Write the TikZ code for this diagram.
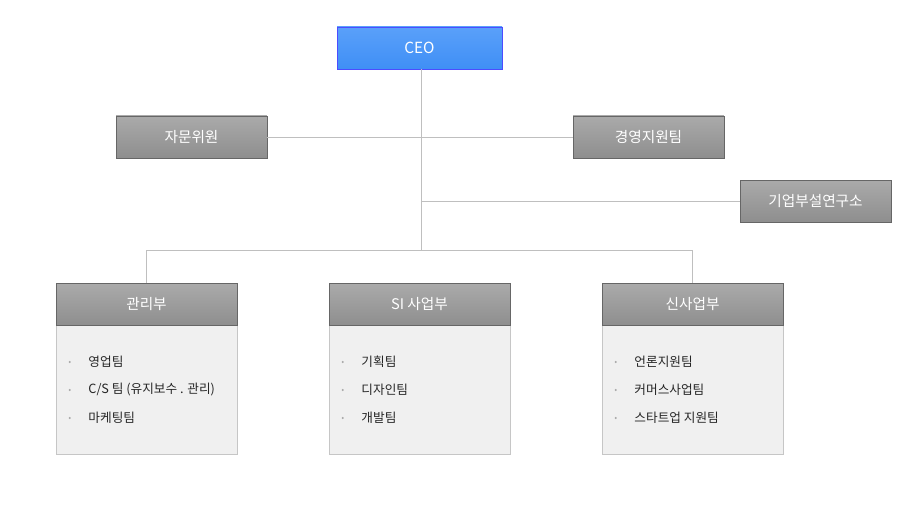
\documentclass[tikz,border=0pt]{standalone}
\usepackage{fontspec}
\setmainfont{Noto Sans CJK KR}
\definecolor{gtop}{HTML}{AAAAAA}
\definecolor{gbot}{HTML}{8E8E8E}
\definecolor{btop}{HTML}{5AA0FA}
\definecolor{bbot}{HTML}{3F8FF5}
\begin{document}
\begin{tikzpicture}[x=0.75pt,y=-0.75pt,
  gbox/.style={draw=gray!80!black,top color=gtop,bottom color=gbot,text=white,font=\fontsize{11}{13}\selectfont,minimum width=113pt,minimum height=31.5pt,inner sep=0pt},
  hbox/.style={gbox,minimum width=135.75pt},
  body/.style={draw=gray!45,fill=gray!12,minimum width=135.75pt,minimum height=96.75pt,inner sep=0pt},
  item/.style={anchor=west,font=\fontsize{9.5}{11}\selectfont,text=gray!30!black},
  ln/.style={draw=gray!50,line width=0.6pt}]
\useasboundingbox (0,0) rectangle (900,510);
\node[draw=blue!70!white,top color=btop,bottom color=bbot,text=white,font=\fontsize{11.5}{13}\selectfont,minimum width=123.75pt,minimum height=31.5pt,inner sep=0pt] (ceo) at (419.5,48) {CEO};
\node[gbox] (adv) at (191.5,137) {자문위원};
\node[gbox] (mgmt) at (648.5,137) {경영지원팀};
\node[gbox] (lab) at (815.5,201) {기업부설연구소};
\coordinate (c1) at (421,137);
\coordinate (c2) at (421,201);
\coordinate (c3) at (421,250);
\draw[ln] (ceo.south -| c1) -- (c3);
\draw[ln] (adv) -- (mgmt);
\draw[ln] (c2) -- (lab);
\foreach \n/\x/\t in {a/146.5/관리부,b/419.5/SI 사업부,c/692.5/신사업부}{
  \node[body,anchor=north] (\n body) at (\x,325) {};
  \node[hbox,anchor=north] (\n) at (\x,283) {\t};
}
\draw[ln] (a.north) -- (a.north |- c3) -- (c.north |- c3) -- (c.north);
\foreach \n/\i/\j/\k in {a/{영업팀}/{C/S 팀 (유지보수 . 관리)}/{마케팅팀},b/{기획팀}/{디자인팀}/{개발팀},c/{언론지원팀}/{커머스사업팀}/{스타트업 지원팀}}{
  \node[item] (\n t1) at ([xshift=21pt]\n body.west |- 0,362) {\i};
  \node[item] (\n t2) at ([xshift=21pt]\n body.west |- 0,390) {\j};
  \node[item] (\n t3) at ([xshift=21pt]\n body.west |- 0,418) {\k};
  \foreach \y in {362,390,418}{
    \fill[gray!70] ([xshift=10.5pt]\n body.west |- 0,\y) circle (0.8pt);
  }
}
\end{tikzpicture}
\end{document}
